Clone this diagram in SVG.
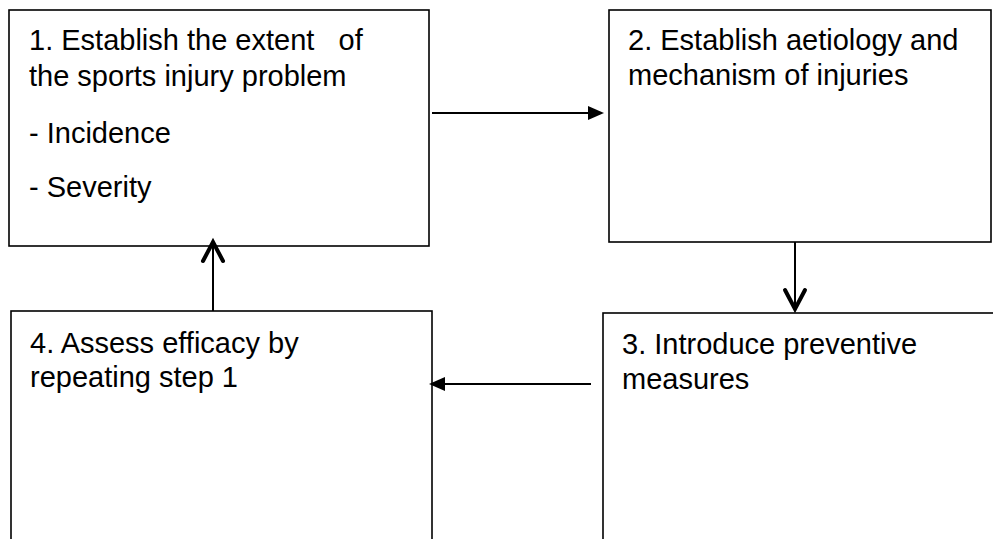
<svg xmlns="http://www.w3.org/2000/svg" width="993" height="539" viewBox="0 0 993 539">
  <style>
    .box { fill: #ffffff; stroke: #000000; stroke-width: 1.6; }
    .label { font-family: "Liberation Sans", Arial, Helvetica, sans-serif; font-size: 29px; fill: #000000; }
    .conn { stroke: #000000; stroke-width: 2; fill: none; }
    .chev { stroke: #000000; stroke-width: 4; fill: none; stroke-linecap: round; stroke-linejoin: miter; }
    .tri { fill: #000000; stroke: none; }
  </style>
  <rect width="993" height="539" fill="#ffffff"/>

  <g id="node-1">
    <rect class="box" x="9" y="10" width="420" height="236"/>
    <text class="label" x="29" y="50" xml:space="preserve">1. Establish the extent   of</text>
    <text class="label" x="29" y="86">the sports injury problem</text>
    <text class="label" x="29" y="143">- Incidence</text>
    <text class="label" x="29" y="197">- Severity</text>
  </g>

  <g id="node-2">
    <rect class="box" x="609" y="10" width="382" height="232"/>
    <text class="label" x="628" y="50">2. Establish aetiology and</text>
    <text class="label" x="628" y="85">mechanism of injuries</text>
  </g>

  <g id="node-3">
    <rect class="box" x="603" y="313" width="420" height="240"/>
    <text class="label" x="622" y="354">3. Introduce preventive</text>
    <text class="label" x="622" y="389">measures</text>
  </g>

  <g id="node-4">
    <rect class="box" x="11" y="311" width="421" height="240"/>
    <text class="label" x="30" y="353">4. Assess efficacy by</text>
    <text class="label" x="30" y="387">repeating step 1</text>
  </g>

  <g id="connectors">
    <!-- 1 to 2 -->
    <line class="conn" x1="432" y1="113" x2="590" y2="113"/>
    <polygon class="tri" points="604,113 588,106 588,120"/>
    <!-- 2 to 3 -->
    <line class="conn" x1="795" y1="242" x2="795" y2="308"/>
    <polyline class="chev" points="785,290 795,309 805,290"/>
    <!-- 3 to 4 -->
    <line class="conn" x1="591" y1="384" x2="443" y2="384"/>
    <polygon class="tri" points="429,384 445,377 445,391"/>
    <!-- 4 to 1 -->
    <line class="conn" x1="213" y1="311" x2="213" y2="242"/>
    <polyline class="chev" points="203,261 213,242 223,261"/>
  </g>
</svg>
